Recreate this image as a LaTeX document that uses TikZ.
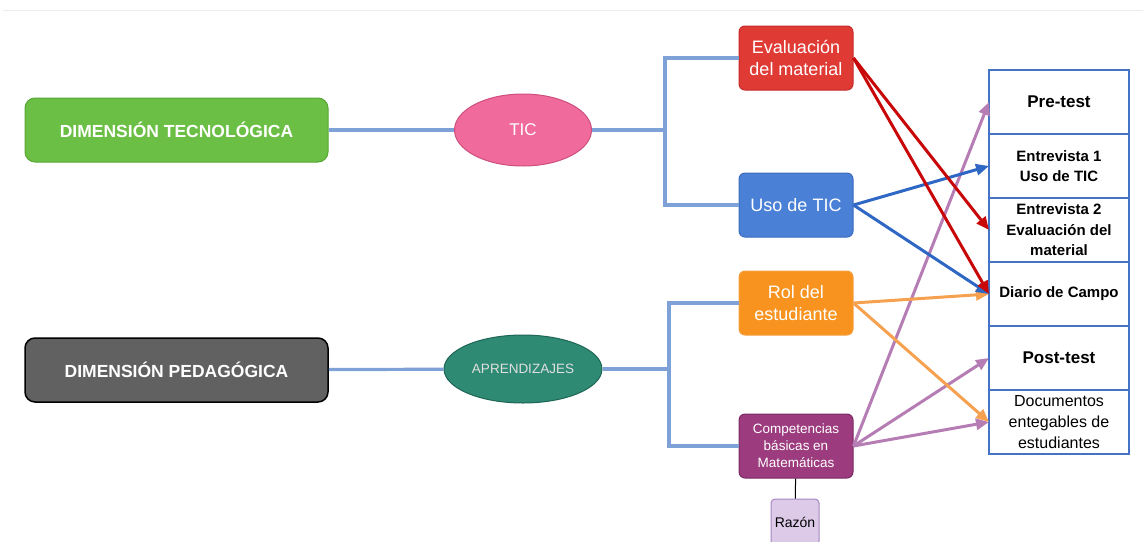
\documentclass[tikz,border=0pt]{standalone}
\usepackage{fontspec}
\setmainfont{Liberation Sans}
\usetikzlibrary{arrows.meta,positioning,shapes.geometric}
\definecolor{mpgreen}{HTML}{6CBF45}
\definecolor{mpgreenb}{HTML}{58A635}
\definecolor{mpgray}{HTML}{616161}
\definecolor{mppink}{HTML}{F06A9B}
\definecolor{mppinkb}{HTML}{CC4F7E}
\definecolor{mpteal}{HTML}{2F8A73}
\definecolor{mptealb}{HTML}{1E6555}
\definecolor{mpred}{HTML}{E03A35}
\definecolor{mpredb}{HTML}{C42A27}
\definecolor{mpblue}{HTML}{4A80D6}
\definecolor{mpblueb}{HTML}{3B6BBE}
\definecolor{mporange}{HTML}{F7931E}
\definecolor{mporangeb}{HTML}{F5A040}
\definecolor{mpplum}{HTML}{9C3C7E}
\definecolor{mpplumb}{HTML}{7A2A62}
\definecolor{mplilac}{HTML}{DCCAE8}
\definecolor{mplilacb}{HTML}{A586C4}
\definecolor{mptree}{HTML}{7EA1D8}
\definecolor{mptable}{HTML}{4472C4}
\definecolor{mparred}{HTML}{C80808}
\definecolor{mparblue}{HTML}{2F67C4}
\definecolor{mparorange}{HTML}{F5A150}
\definecolor{mparplum}{HTML}{B67DB4}
\definecolor{mprule}{HTML}{ECECEC}

\begin{document}
\begin{tikzpicture}[x=1pt, y=-1pt,
    dimension/.style={draw, rounded corners=10pt, line width=1pt, minimum width=303pt, minimum height=64pt, text=white, font=\fontsize{17.5}{21}\selectfont\bfseries},
    topic/.style={ellipse, draw, line width=1pt, text=white},
    subtopic/.style={draw, rounded corners=6pt, line width=1pt, minimum width=114pt, minimum height=64pt, align=center, text=white, font=\fontsize{18}{22}\selectfont},
    cell/.style={draw=mptable, line width=1.8pt, fill=white, outer sep=0pt, minimum width=140pt, minimum height=64pt, inner sep=1pt, align=center, font=\fontsize{15}{20.5}\selectfont\bfseries},
    tree/.style={draw=mptree, line width=3.2pt},
    link/.style={line width=3pt, -{Triangle[length=13pt,width=11pt]}}
  ]
    \useasboundingbox (0,0) rectangle (1143,541);
    \draw[mprule, line width=1pt] (3,10) -- (1143,10);

    \node[dimension, fill=mpgreen, draw=mpgreenb] (tecno) at (176.5,130) {DIMENSIÓN TECNOLÓGICA};
    \node[dimension, fill=mpgray, draw=black, line width=1.5pt] (pedago) at (176.5,370) {DIMENSIÓN PEDAGÓGICA};
    \node[topic, fill=mppink, draw=mppinkb, minimum width=137pt, minimum height=72pt, font=\fontsize{17}{20}\selectfont] (tic) at (523,130) {TIC};
    \node[topic, fill=mpteal, draw=mptealb, minimum width=158pt, minimum height=68pt, font=\fontsize{13.5}{16}\selectfont, text=white!88!black] (aprend) at (523,369) {APRENDIZAJES};

    \node[subtopic, fill=mpred, draw=mpredb] (evalmat) at (796,58) {Evaluación\\del material};
    \node[subtopic, fill=mpblue, draw=mpblueb] (usotic) at (796,205) {Uso de TIC};
    \node[subtopic, fill=mporange, draw=mporangeb] (rol) at (796,303) {Rol del\\estudiante};
    \node[subtopic, fill=mpplum, draw=mpplumb, font=\fontsize{13.5}{17}\selectfont] (compet) at (796,446) {Competencias\\básicas en\\Matemáticas};
    \node[draw=mplilacb, fill=mplilac, rounded corners=4pt, line width=1pt, minimum width=48pt, minimum height=46pt, font=\fontsize{14}{16}\selectfont] (razon) at (795,522) {Razón};

    \node[cell, font=\fontsize{17}{20}\selectfont\bfseries] (pretest) at (1059,102) {Pre-test};
    \node[cell, below=0pt of pretest] (entrev1) {Entrevista 1\\Uso de TIC};
    \node[cell, below=0pt of entrev1] (entrev2) {Entrevista 2\\Evaluación del\\material};
    \node[cell, below=0pt of entrev2] (diario) {Diario de Campo};
    \node[cell, below=0pt of diario, font=\fontsize{17}{20}\selectfont\bfseries] (postest) {Post-test};
    \node[cell, below=0pt of postest, font=\fontsize{16}{21}\selectfont] (docs) {Documentos\\entegables de\\estudiantes};

    \coordinate (ticfork) at (665,130);
    \coordinate (aprfork) at (669,369);
    \draw[tree] (tecno) -- (tic);
    \draw[tree] (tic) -- (ticfork) |- (evalmat);
    \draw[tree] (ticfork) |- (usotic);
    \draw[tree] (pedago) -- (aprend);
    \draw[tree] (aprend) -- (aprfork) |- (rol);
    \draw[tree] (aprfork) |- (compet);
    \draw[black, line width=1pt] (compet) -- (razon);

    \draw[link, mparplum] (compet.east) -- (pretest.west);
    \draw[link, mparplum] (compet.east) -- (postest.west);
    \draw[link, mparplum] (compet.east) -- (docs.west);
    \draw[link, mparorange] (rol.east) -- (diario.west);
    \draw[link, mparorange] (rol.east) -- (docs.west);
    \draw[link, mparblue] (usotic.east) -- (entrev1.west);
    \draw[link, mparblue] (usotic.east) -- (diario.west);
    \draw[link, mparred] (evalmat.east) -- (entrev2.west);
    \draw[link, mparred] (evalmat.east) -- (diario.west);
  \end{tikzpicture}
\end{document}
